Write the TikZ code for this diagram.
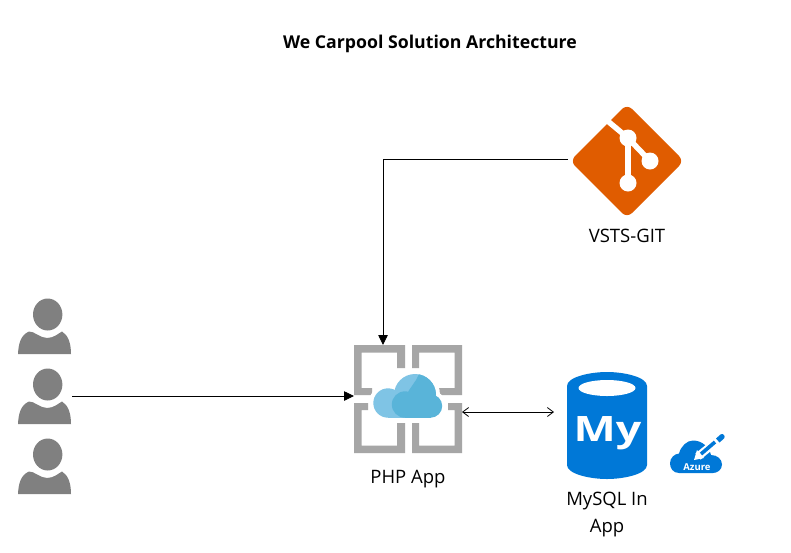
\documentclass[tikz,border=0pt]{standalone}
\usepackage{fontspec}
\setmainfont{Open Sans}
\newfontfamily\iconfont{Open Sans}
\usetikzlibrary{arrows.meta}
\definecolor{frameGrey}{HTML}{A6A6A6}
\definecolor{userGrey}{HTML}{808080}
\definecolor{cloudLight}{HTML}{7FC4E5}
\definecolor{cloudDark}{HTML}{59B4D9}
\definecolor{gitOrange}{HTML}{E05C00}
\definecolor{mysqlBlue}{HTML}{0078D7}
\tikzset{
  labeltext/.style={font=\fontsize{18.5}{27}\selectfont,align=center,text=black},
  solidarrow/.style={draw=black,line width=0.8pt,-{Triangle[length=10pt,width=9.5pt]}},
  openarrow/.style={draw=black,line width=0.8pt,{Straight Barb[length=6pt,width=9pt]}-{Straight Barb[length=6pt,width=9pt]}},
  gitline/.style={draw=white,line width=5.5pt},
  user/.pic={
    \fill[userGrey] (47.7,314.5) ellipse [x radius=14.7,y radius=16];
    \fill[userGrey] (18,354) .. controls (18.5,343) and (21,335) .. (29,331.5)
      .. controls (34,331) and (40,338) .. (47,338)
      .. controls (54,338) and (59,333) .. (62,331.5)
      .. controls (68,335) and (71,343) .. (71,354) -- cycle;
  }
}
\begin{document}
\begin{tikzpicture}[x=1pt,y=-1pt]
\useasboundingbox (0,0) rectangle (791,552);
\fill[white] (0,0) rectangle (791,552);

\node[labeltext,font=\fontsize{17.7}{24}\selectfont\bfseries] (title) at (430,44) {We Carpool Solution Architecture};

% users
\pic at (0,0) {user};
\pic at (0,70) {user};
\pic at (0,140) {user};
\coordinate (usersOut) at (72,396);

% git icon
\fill[gitOrange,rounded corners=7pt] (627,104) -- (684,161) -- (627,218) -- (570,161) -- cycle;
\draw[gitline] (607,120.5) -- (628,138) -- (650,161);
\draw[gitline] (628,138) -- (628,183);
\fill[white] (628,138) circle [radius=8.5];
\fill[white] (650,161) circle [radius=8.5];
\fill[white] (628,183) circle [radius=8.5];
\coordinate (gitOut) at (568,159);
\node[labeltext] (gitlabel) at (627,236) {VSTS-GIT};

% app icon
\fill[frameGrey] (354,345) -- (405,345) -- (405,368) -- (397,368) -- (397,352.5) -- (361.5,352.5) -- (361.5,388) -- (372,388) -- (372,395) -- (354,395) -- cycle;
\fill[frameGrey] (462,345) -- (412,345) -- (412,368) -- (419,368) -- (419,352.5) -- (454.5,352.5) -- (454.5,388) -- (439,388) -- (439,395) -- (462,395) -- cycle;
\fill[frameGrey] (354,453) -- (405,453) -- (405,423) -- (397,423) -- (397,445.5) -- (361.5,445.5) -- (361.5,410) -- (368,410) -- (368,403) -- (354,403) -- cycle;
\fill[frameGrey] (462,453) -- (412,453) -- (412,423) -- (419,423) -- (419,445.5) -- (454.5,445.5) -- (454.5,410) -- (448,410) -- (448,403) -- (462,403) -- cycle;
% cloud halo
\fill[white] (388,403) circle [radius=19];
\fill[white] (415,395) circle [radius=25];
\fill[white] (430,406) circle [radius=16];
\fill[white] (388,398) rectangle (431,422);
% cloud
\fill[cloudLight] (388,403) circle [radius=14.7];
\fill[cloudLight] (415,395) circle [radius=21];
\fill[cloudLight] (388,400) rectangle (431,417.7);
\begin{scope}
  \clip (408.5,391) -- (416,380) -- (421,370) -- (445,370) -- (445,420) -- (400,420) -- cycle;
  \fill[cloudDark] (415,395) circle [radius=21];
\end{scope}
\fill[cloudDark] (405,404.5) circle [radius=13.2];
\fill[cloudDark] (430.5,406) circle [radius=11.7];
\fill[cloudDark] (405,400) rectangle (431,417.7);
\coordinate (appTop) at (383,345);
\coordinate (appLeft) at (354,396);
\coordinate (appRight) at (462,412);
\node[labeltext] (applabel) at (408,479) {PHP App};

% mysql
\fill[mysqlBlue] (567,386) .. controls (567,377) and (590,372) .. (607,372)
  .. controls (624,372) and (647,377) .. (647,386) -- (647,465)
  .. controls (647,474) and (624,479) .. (607,479)
  .. controls (590,479) and (567,474) .. (567,465) -- cycle;
\fill[white] (607,388) ellipse [x radius=28.5,y radius=8];
\node[anchor=base,inner sep=0pt,text=white,font=\iconfont\fontsize{35}{35}\selectfont\bfseries] (my) at (607.5,441.5) {\scalebox{1.28}[1]{My}};
\coordinate (mysqlIn) at (554,412);
\node[labeltext] (mysqllabel) at (607,515) {MySQL In\\App};

% azure badge
\fill[mysqlBlue] (679,473) .. controls (673,473) and (670,468) .. (670,463.5)
  .. controls (670,458) and (674,454) .. (679,453.5)
  .. controls (681,446) and (687,440.5) .. (693,440.5)
  .. controls (702,440.5) and (709,447) .. (711,455)
  .. controls (717,455) and (722,459) .. (722,464.5)
  .. controls (722,470) and (717,473) .. (713,473) -- cycle;
\draw[white,line width=8pt] (698,456.5) -- (718,440);
\fill[white] (694,460) -- (697,450) -- (704,458) -- cycle;
\draw[mysqlBlue,line width=3.6pt] (701,454) -- (715,442);
\fill[mysqlBlue] (716,438.5) -- (720.5,434.5) .. controls (723,432.5) and (726,436.5) .. (724,438.5) -- (719.5,442.5) -- cycle;
\node[inner sep=0pt,text=white,font=\iconfont\fontsize{9.5}{9.5}\selectfont\bfseries] (azure) at (697,467.5) {Azure};

% connectors
\draw[solidarrow] (gitOut) -| (appTop);
\draw[solidarrow] (usersOut) -- (appLeft);
\draw[openarrow] (appRight) -- (mysqlIn);
\end{tikzpicture}
\end{document}
